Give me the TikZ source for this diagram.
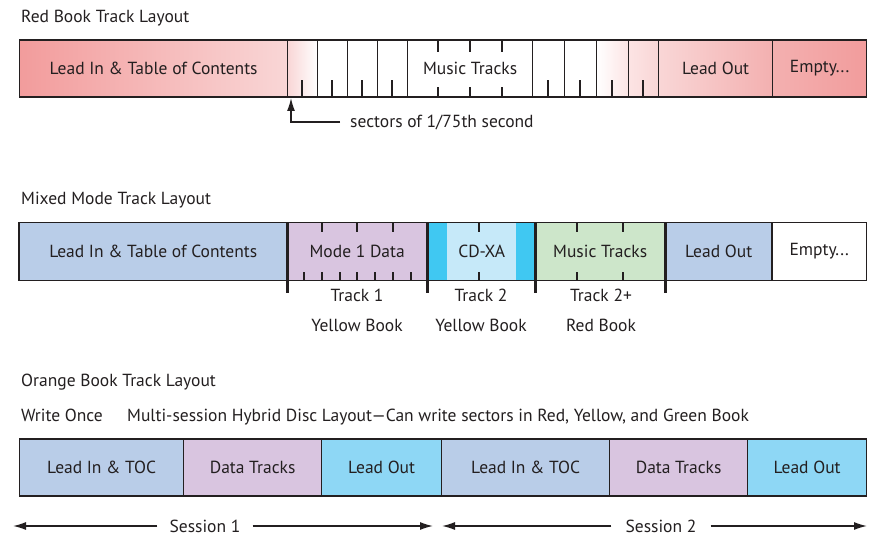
\documentclass[tikz,border=0pt]{standalone}
\usepackage{fontspec}
\setmainfont{PT Sans}
\usetikzlibrary{arrows.meta}
\definecolor{ink}{HTML}{231F20}
\definecolor{pinkA}{HTML}{F29C9C}
\definecolor{pinkB}{HTML}{F3B0B0}
\definecolor{pinkC}{HTML}{F9D6D6}
\definecolor{pinkD}{HTML}{FCE4E4}
\definecolor{leadblue}{HTML}{B9CDE8}
\definecolor{datalilac}{HTML}{D9C5E0}
\definecolor{xacyan}{HTML}{40C8F2}
\definecolor{xalight}{HTML}{C6E9F9}
\definecolor{musicgreen}{HTML}{CDE6CA}
\definecolor{outcyan}{HTML}{8ED7F5}
\begin{document}
\begin{tikzpicture}[x=1pt,y=-1pt,
  txt/.style={text=ink,font=\fontsize{17.5}{20}\selectfont,inner sep=0pt},
  seg/.style={txt,draw=ink,line width=1.2pt,anchor=west,minimum height=57pt},
  segfill/.style={txt,anchor=west,minimum height=57pt},
  frame/.style={draw=ink,line width=1.2pt},
  sepline/.style={draw=ink,line width=3pt},
  tick/.style={draw=ink,line width=1.2pt},
  arr/.style={draw=ink,line width=1.4pt,-{Latex[length=13pt,width=8pt]}}]%
% page size
\useasboundingbox (0,0) rectangle (869,537);
% ---- Red Book
\node[txt,anchor=west] (redtitle) at (21,18) {Red Book Track Layout};
\node[seg,minimum width=268pt,left color=pinkA,middle color=pinkA,right color=pinkC]
  (rLead) at (19,68.5) {Lead In \& Table of Contents};
\foreach \n/\xa/\w/\lc/\rc in {1/287/30/pinkC/white,2/317/30/white/white,
    3/347/30/white/white,4/377/30/white/white}
  \node[seg,minimum width=\w pt,left color=\lc,right color=\rc] (rs\n) at (\xa,68.5) {};
\node[seg,minimum width=125pt,fill=white] (rMusic) at (407,68.5) {Music Tracks};
\foreach \n/\xa/\w/\lc/\rc in {5/532/32/white/white,6/564/32/white/white,
    7/596/32/white/pinkD,8/628/30/pinkD/pinkC}
  \node[seg,minimum width=\w pt,left color=\lc,right color=\rc] (rs\n) at (\xa,68.5) {};
\node[seg,minimum width=114pt,left color=pinkC,right color=pinkB] (rOut) at (658,68.5) {Lead Out};
\node[seg,minimum width=94pt,left color=pinkB,right color=pinkA] (rEmpty) at (772,68.5) {Empty...};
\foreach \x in {302,332,362,392,548,580,612,643}
  \draw[tick] (\x,97) -- ++(0,-17);
\foreach \x in {438,470,502} {
  \draw[tick] (\x,40) -- ++(0,12);
  \draw[tick] (\x,97) -- ++(0,-10);
}
\coordinate (sectTip) at (291,98);
\node[txt,anchor=west] (sect) at (350,122) {sectors of 1/75th second};
\draw[arr] ([xshift=-10pt]sect.west) -| (sectTip);
% ---- Mixed Mode
\node[txt,anchor=west] (mixtitle) at (21,200) {Mixed Mode Track Layout};
\node[segfill,minimum width=268pt,fill=leadblue] (mLead) at (19,251.5) {Lead In \& Table of Contents};
\node[segfill,minimum width=140pt,fill=datalilac] (mData) at (287,251.5) {Mode 1 Data};
\node[segfill,minimum width=20pt,fill=xacyan] (mCyanA) at (427,251.5) {};
\node[segfill,minimum width=69pt,fill=xalight] (mXA) at (447,251.5) {CD-XA};
\node[segfill,minimum width=19pt,fill=xacyan] (mCyanB) at (516,251.5) {};
\node[segfill,minimum width=130pt,fill=musicgreen] (mMusic) at (535,251.5) {Music Tracks};
\node[segfill,minimum width=107pt,fill=leadblue] (mOut) at (665,251.5) {Lead Out};
\node[segfill,minimum width=94pt,fill=white] (mEmpty) at (772,251.5) {Empty...};
\draw[frame] (mLead.north west) rectangle (mEmpty.south east);
\draw[frame] (mEmpty.north west) -- (mEmpty.south west);
\foreach \p in {mData,mCyanA,mMusic,mOut}
  \draw[sepline] (\p.north west) -- ++(0,70);
\foreach \x in {322,357,393,479,577,623}
  \draw[tick] (\x,223) -- ++(0,9);
\foreach \x in {304,322,340,357,375,393,411,479,577,623}
  \draw[tick] (\x,280) -- ++(0,-8);
\node[txt] (trk1) at (357,295) {Track 1};
\node[txt] (book1) at (357,325) {Yellow Book};
\node[txt] (trk2) at (481,295) {Track 2};
\node[txt] (book2) at (481,325) {Yellow Book};
\node[txt] (trk3) at (601,295) {Track 2+};
\node[txt] (book3) at (601,325) {Red Book};
% ---- Orange Book
\node[txt,anchor=west] (orgtitle) at (21,382) {Orange Book Track Layout};
\node[txt,anchor=base west] (wonce) at (21,421) {Write Once};
\node[txt,anchor=base west] (hybrid) at (127,421) {Multi-session Hybrid Disc Layout—Can write sectors in Red, Yellow, and Green Book};
\node[seg,minimum width=164pt,fill=leadblue] (oLeadA) at (19,467.5) {Lead In \& TOC};
\node[seg,minimum width=138pt,fill=datalilac] (oDataA) at (183,467.5) {Data Tracks};
\node[seg,minimum width=120pt,fill=outcyan] (oOutA) at (321,467.5) {Lead Out};
\node[seg,minimum width=168pt,fill=leadblue] (oLeadB) at (441,467.5) {Lead In \& TOC};
\node[seg,minimum width=138pt,fill=datalilac] (oDataB) at (609,467.5) {Data Tracks};
\node[seg,minimum width=119pt,fill=outcyan] (oOutB) at (747,467.5) {Lead Out};
% sessions
\coordinate (s1L) at (13,526);
\coordinate (s1R) at (433,526);
\coordinate (s2L) at (442,526);
\coordinate (s2R) at (867,526);
\node[txt,inner xsep=12pt] (ses1) at (205,526) {Session 1};
\node[txt,inner xsep=14pt] (ses2) at (661,526) {Session 2};
\draw[arr] (ses1.west) -- (s1L);
\draw[arr] (ses1.east) -- (s1R);
\draw[arr] (ses2.west) -- (s2L);
\draw[arr] (ses2.east) -- (s2R);
\end{tikzpicture}
\end{document}
